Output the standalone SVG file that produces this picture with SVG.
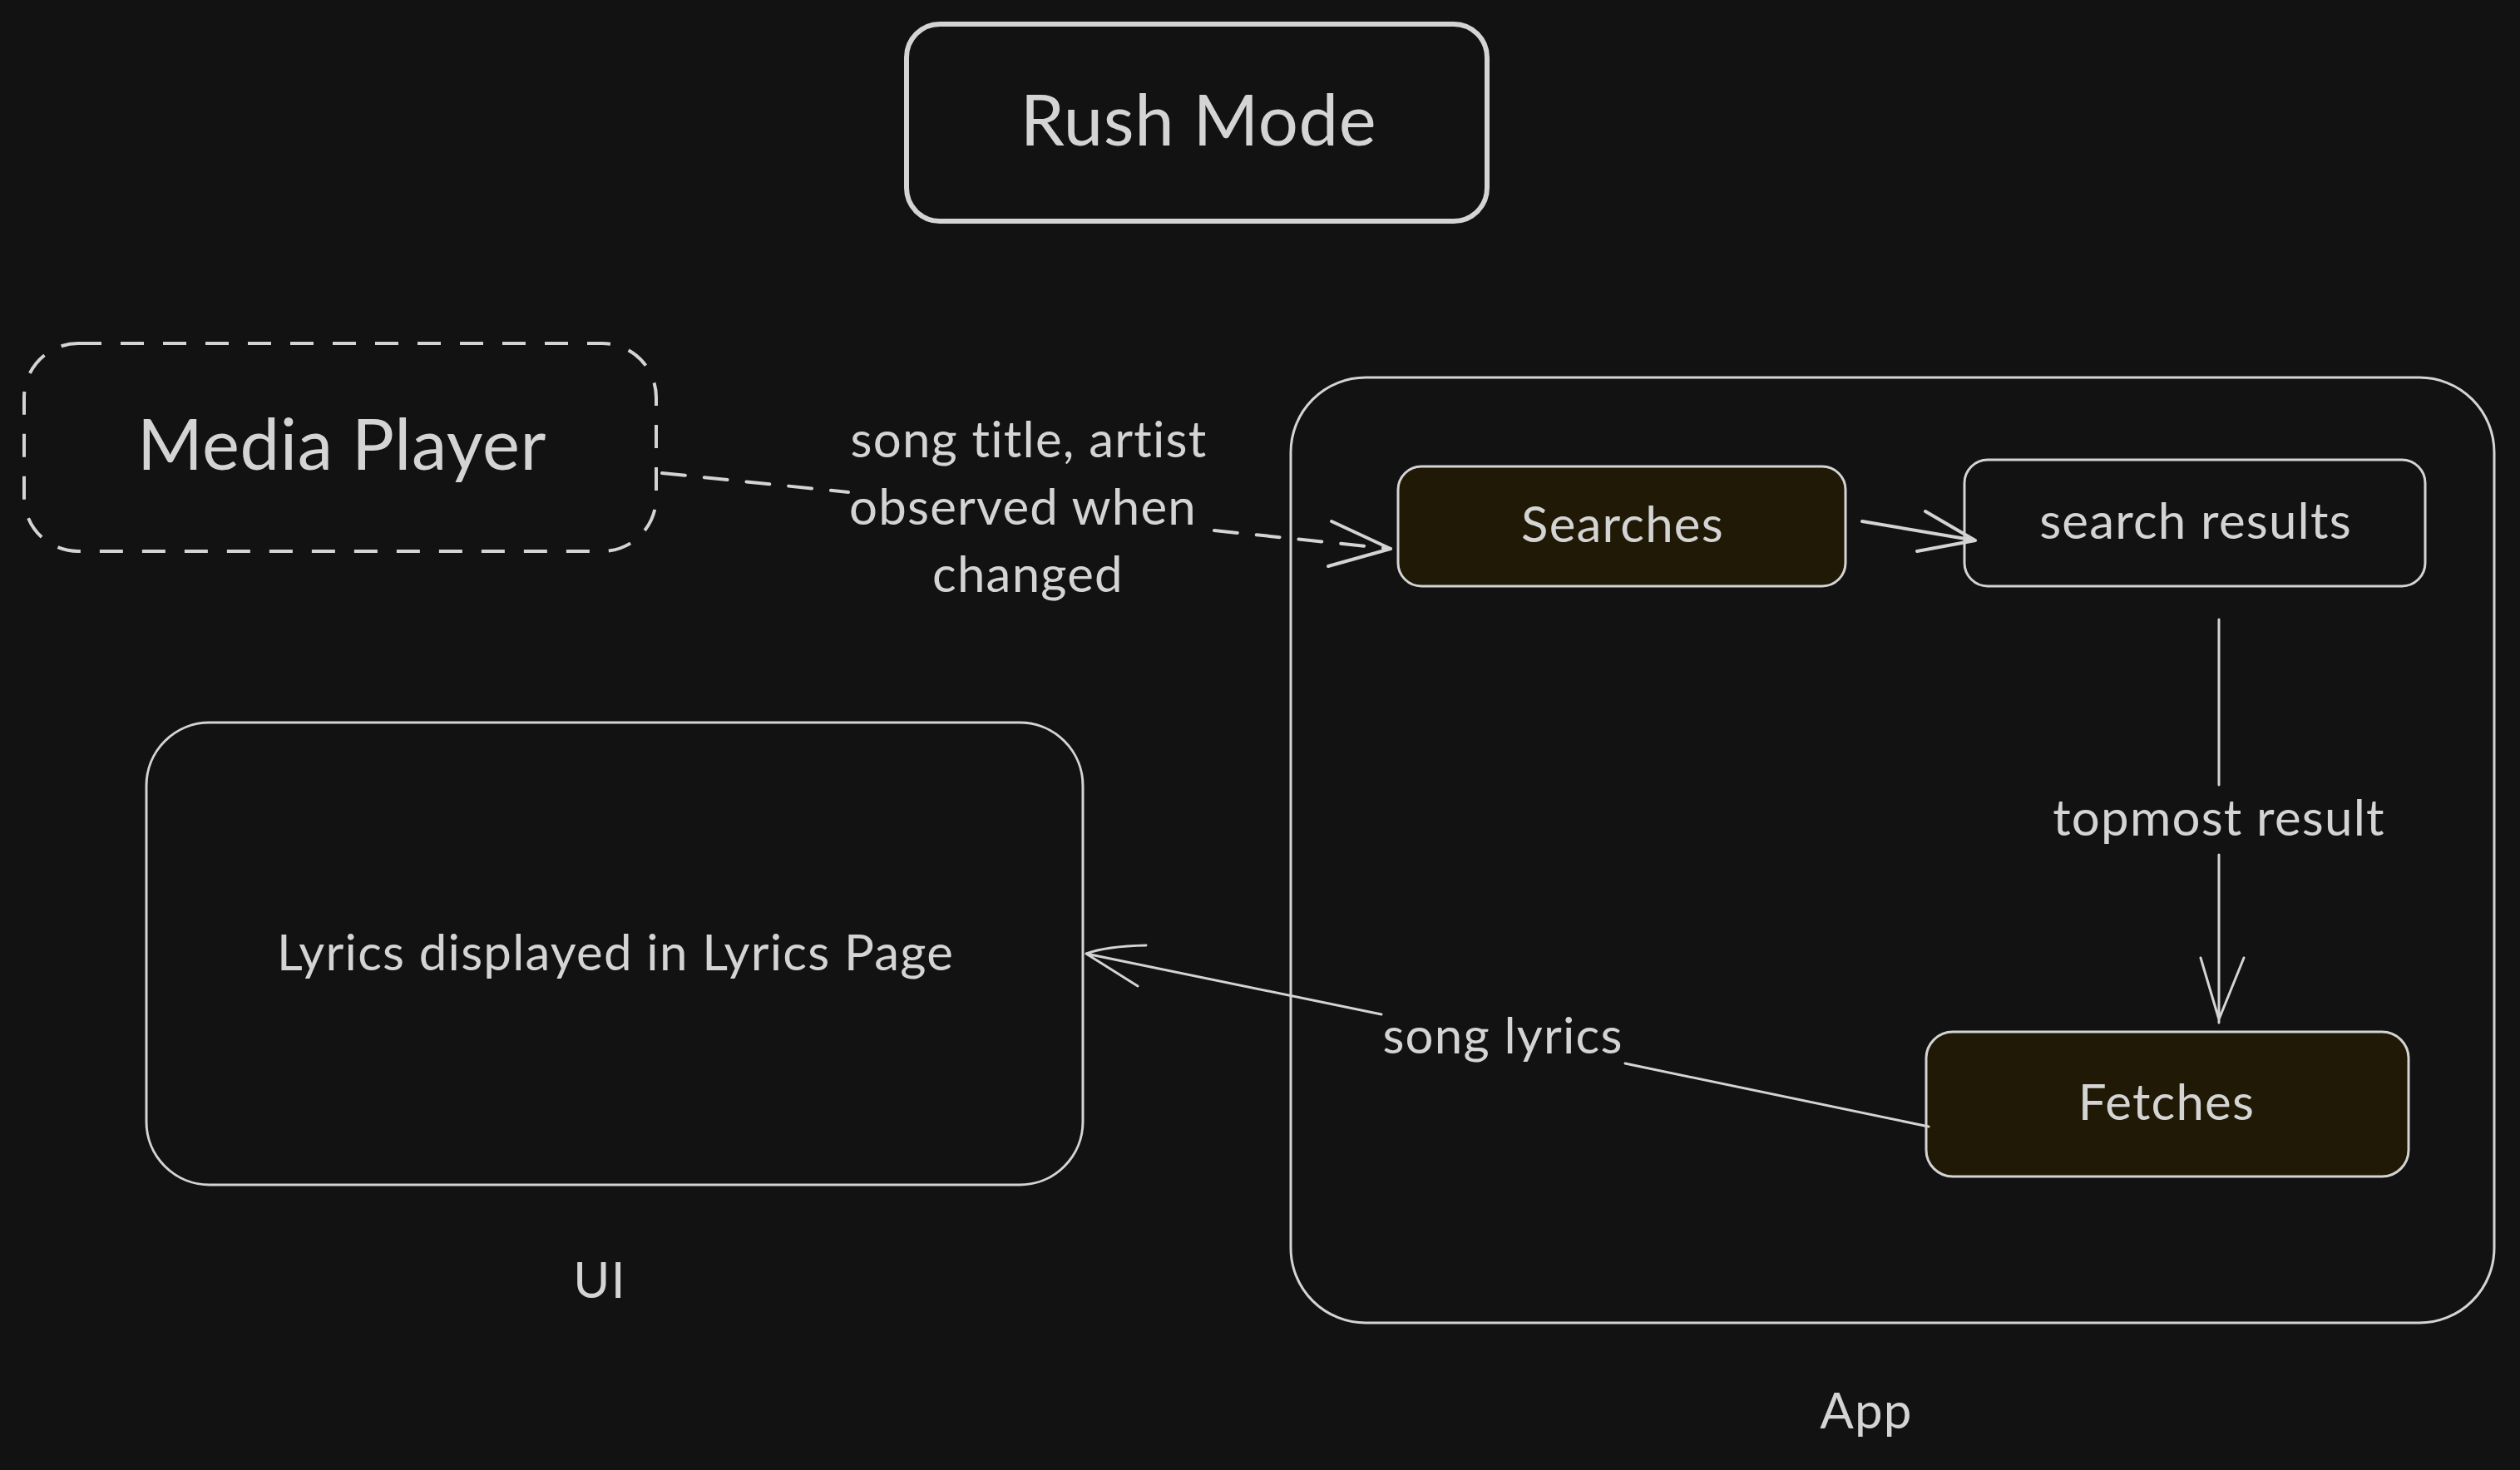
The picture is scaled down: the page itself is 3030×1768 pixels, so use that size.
<svg xmlns="http://www.w3.org/2000/svg" width="3030" height="1768" viewBox="0 0 3030 1768">
<style>
.bg{fill:#121212}
.box{fill:none;stroke:#d4d4d4;stroke-width:3;stroke-linejoin:round}
.thick{stroke-width:6}
.dash{stroke-dasharray:28 23;stroke-width:4}
.fill{fill:#1f1905}
.t{font-family:Lato,"Noto Sans","Liberation Sans",sans-serif;fill:#d4d4d4;text-anchor:middle;font-variant-ligatures:none}
.big{font-size:85px;letter-spacing:0.6px}
.mid{font-size:60px;letter-spacing:1.2px}
.ln{fill:none;stroke:#d4d4d4;stroke-width:3;stroke-linecap:round;stroke-linejoin:round}
</style>
<rect class="bg" x="0" y="0" width="3030" height="1768"/>
<g id="rush-mode">
<rect class="box thick" x="1090" y="29" width="698" height="237" rx="40"/>
<text class="t big" x="1441" y="175">Rush Mode</text>
</g>
<g id="media-player">
<rect class="box dash" x="29" y="413" width="760" height="250" rx="65"/>
<text class="t big" x="411" y="565">Media Player</text>
</g>
<g id="app">
<rect class="box" x="1552" y="454" width="1447" height="1137" rx="90"/>
<text class="t mid" x="2244" y="1718">App</text>
</g>
<g id="searches">
<rect class="box fill" x="1681" y="561" width="538" height="144" rx="28"/>
<text class="t mid" x="1951" y="652">Searches</text>
</g>
<g id="search-results">
<rect class="box" x="2362" y="553" width="554" height="152" rx="28"/>
<text class="t mid" x="2640" y="648">search results</text>
</g>
<g id="fetches">
<rect class="box fill" x="2316" y="1241" width="580" height="174" rx="32"/>
<text class="t mid" x="2605" y="1347">Fetches</text>
</g>
<g id="ui">
<rect class="box" x="176" y="869" width="1126" height="556" rx="76"/>
<text class="t mid" x="740" y="1167">Lyrics displayed in Lyrics Page</text>
<text class="t mid" x="721" y="1561">UI</text>
</g>
<g id="connectors">
<path class="ln" stroke-dasharray="28 23" d="M796 569 L1020 592 M1460 638 L1672 660" style="stroke-width:4"/>
<path class="ln" style="stroke-width:4" d="M1601 627 L1672 660 L1597 681"/>
<text class="t mid" x="1237" y="550">song title, artist</text>
<text class="t mid" x="1230" y="631">observed when</text>
<text class="t mid" x="1236" y="712">changed</text>
<path class="ln" style="stroke-width:4" d="M2239 627 L2375 650 M2315 615 L2375 650 L2305 663"/>
<path class="ln" d="M2668 745 L2668 944 M2668 1028 L2668 1230 M2646 1152 L2668 1226 L2698 1152"/>
<text class="t mid" x="2668" y="1005">topmost result</text>
<path class="ln" d="M2319 1355 L1954 1279 M1661 1220 L1306 1147 M1378 1137 Q1330 1138 1306 1147 L1368 1186"/>
<text class="t mid" x="1807" y="1267">song lyrics</text>
</g>
</svg>
